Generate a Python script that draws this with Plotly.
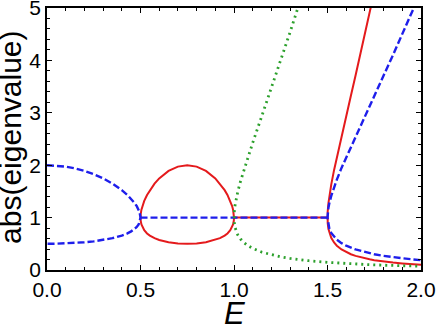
import plotly.graph_objects as go

# blue (dashed) branch, E in [0, 0.5]
e_blue_left = [0, 0.05, 0.1, 0.15, 0.2, 0.25, 0.3, 0.35, 0.4, 0.43, 0.45, 0.47, 0.48, 0.49, 0.495, 0.5]
blue_left_hi = [2.0, 1.993, 1.973, 1.939, 1.891, 1.828, 1.748, 1.648, 1.524, 1.432, 1.359, 1.272, 1.219, 1.151, 1.105, 1.0]
blue_left_lo = [0.5, 0.502, 0.507, 0.516, 0.529, 0.547, 0.572, 0.607, 0.656, 0.698, 0.736, 0.786, 0.820, 0.869, 0.905, 1.0]

# flat part on the unit circle
e_blue_flat = [0.5, 1.5]
blue_flat = [1.0, 1.0]
e_red_flat = [1.0, 1.5]
red_flat = [1.0, 1.0]

# blue branch, E in [1.5, 2]
e_blue_right = [1.5, 1.505, 1.51, 1.52, 1.535, 1.55, 1.575, 1.6, 1.65, 1.7, 1.75, 1.8, 1.85, 1.9, 1.95, 2.0]
blue_right_hi = [1.0, 1.189, 1.277, 1.413, 1.579, 1.725, 1.948, 2.156, 2.553, 2.940, 3.324, 3.711, 4.101, 4.498, 4.901, 5.312]
blue_right_lo = [1.0, 0.841, 0.783, 0.708, 0.633, 0.580, 0.513, 0.464, 0.392, 0.340, 0.301, 0.269, 0.244, 0.222, 0.204, 0.188]

# red (solid) loop, E in [0.5, 1]
e_red_loop = [0.5, 0.501, 0.505, 0.51, 0.52, 0.535, 0.55, 0.575, 0.6, 0.65, 0.7, 0.75,
              0.8, 0.85, 0.9, 0.925, 0.95, 0.965, 0.98, 0.99, 0.995, 0.999, 1.0]
red_loop_hi = [1.0, 1.065, 1.151, 1.219, 1.318, 1.432, 1.524, 1.648, 1.748, 1.891, 1.973, 2.0,
               1.973, 1.891, 1.748, 1.648, 1.524, 1.432, 1.318, 1.219, 1.151, 1.065, 1.0]
red_loop_lo = [1.0, 0.939, 0.869, 0.820, 0.759, 0.698, 0.656, 0.607, 0.572, 0.529, 0.507, 0.5,
               0.507, 0.529, 0.572, 0.607, 0.656, 0.698, 0.759, 0.820, 0.869, 0.939, 1.0]

# red branch, E in [1.5, 2]
e_red_right = [1.5, 1.501, 1.505, 1.51, 1.52, 1.535, 1.55, 1.575, 1.6, 1.625, 1.65, 1.675,
               1.7, 1.725, 1.75, 1.8, 1.85, 1.9, 1.95, 2.0]
red_right_hi = [1.0, 1.116, 1.277, 1.413, 1.630, 1.905, 2.156, 2.553, 2.940, 3.324, 3.711, 4.101,
                4.498, 4.901, 5.312, 6.158, 7.038, 7.954, 8.908, 9.899]
red_right_lo = [1.0, 0.896, 0.783, 0.708, 0.613, 0.525, 0.464, 0.392, 0.340, 0.301, 0.269, 0.244,
                0.222, 0.204, 0.188, 0.162, 0.142, 0.126, 0.112, 0.101]

# green (dotted) branch, E in [1, 2]
e_green = [1.0, 1.001, 1.005, 1.01, 1.02, 1.035, 1.05, 1.075, 1.1, 1.15, 1.2, 1.25, 1.3, 1.35,
           1.4, 1.5, 1.6, 1.7, 1.8, 1.9, 2.0]
green_hi = [1.0, 1.094, 1.221, 1.327, 1.491, 1.695, 1.877, 2.159, 2.428, 2.951, 3.472, 4.0, 4.540,
            5.094, 5.663, 6.854, 8.117, 9.454, 10.868, 12.359, 13.928]
green_lo = [1.0, 0.914, 0.819, 0.754, 0.671, 0.590, 0.533, 0.463, 0.412, 0.339, 0.288, 0.25, 0.220,
            0.196, 0.177, 0.146, 0.123, 0.106, 0.092, 0.081, 0.072]

red = 'rgb(228,26,28)'
blue = 'rgb(30,30,235)'
green = 'rgb(44,160,44)'
font = 'Liberation Sans, Arial'


def branch(e, hi, lo):
    # one path: down the upper branch, back out along the lower one
    return e[::-1] + e[1:], hi[::-1] + lo[1:]


fig = go.Figure()

red_line = dict(color=red, width=2)
x, y = branch(e_red_loop, red_loop_hi, red_loop_lo)
fig.add_trace(go.Scatter(x=x, y=y, mode='lines', line=red_line))
fig.add_trace(go.Scatter(x=e_red_flat, y=red_flat, mode='lines', line=red_line))
x, y = branch(e_red_right, red_right_hi, red_right_lo)
fig.add_trace(go.Scatter(x=x, y=y, mode='lines', line=red_line))

blue_line = dict(color=blue, width=2.4, dash='7px,3px')
fig.add_trace(go.Scatter(x=e_blue_left + e_blue_left[::-1][1:], y=blue_left_hi + blue_left_lo[::-1][1:],
                         mode='lines', line=blue_line))
fig.add_trace(go.Scatter(x=e_blue_flat, y=blue_flat, mode='lines', line=blue_line))
x, y = branch(e_blue_right, blue_right_hi, blue_right_lo)
fig.add_trace(go.Scatter(x=x, y=y, mode='lines', line=blue_line))

x, y = branch(e_green, green_hi, green_lo)
fig.add_trace(go.Scatter(x=x, y=y, mode='lines', line=dict(color=green, width=2.8, dash='2px,4px')))

axis = dict(showline=True, linecolor='black', linewidth=1.5, mirror='ticks',
            ticks='inside', ticklen=5, tickwidth=1.2, tickcolor='black',
            showgrid=False, zeroline=False, ticklabeloverflow='allow', automargin=False,
            tickfont=dict(family=font, size=21, color='black'))

fig.update_xaxes(range=[0, 2], dtick=0.5, tickformat='.1f',
                 minor=dict(ticks='inside', ticklen=3, dtick=0.1, tickcolor='black', showgrid=False),
                 **axis)
fig.update_yaxes(range=[0, 5], dtick=1,
                 minor=dict(ticks='inside', ticklen=3, dtick=0.2, tickcolor='black', showgrid=False),
                 **axis)

# axis titles placed as annotations so they sit where the reference has them
fig.add_annotation(text='<i>E</i>', xref='paper', yref='paper', x=0.5, y=0, yshift=-24,
                   xanchor='center', yanchor='top', showarrow=False,
                   font=dict(family=font, size=31, color='black'))
fig.add_annotation(text='abs(eigenvalue)', xref='paper', yref='paper', x=0, y=0.506, xshift=-18,
                   xanchor='right', yanchor='middle', textangle=-90, showarrow=False,
                   font=dict(family=font, size=30, color='black'))

fig.update_layout(
    width=436, height=325,
    margin=dict(l=47, r=15, t=8, b=55),
    plot_bgcolor='white', paper_bgcolor='white',
    showlegend=False,
    hovermode=False,
)

# drop the default 8px body margin so the figure sits at the page corner
fig.write_html("out.html", config={'displayModeBar': False},
               post_script="document.body.style.margin = '0';")
